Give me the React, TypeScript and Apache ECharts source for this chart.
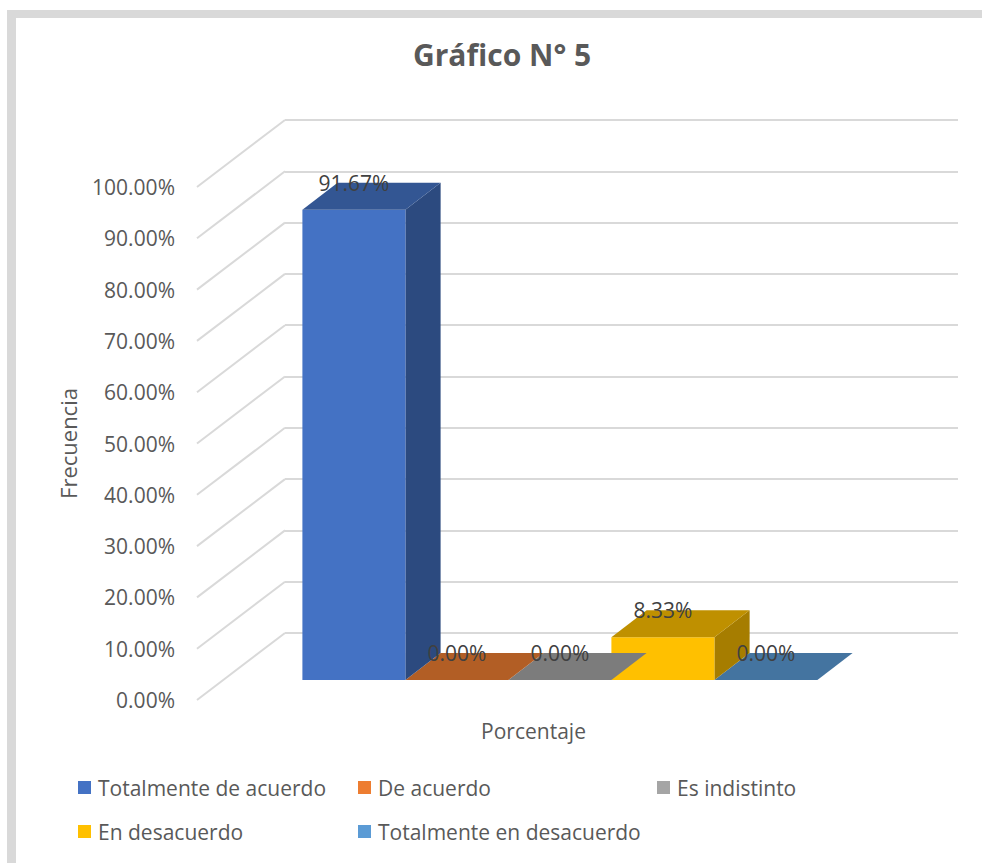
import React, { useEffect, useRef } from "react";
import * as echarts from "echarts";

// ---------- data ----------
const categories = ["Porcentaje"];
const seriesNames = [
  "Totalmente de acuerdo",
  "De acuerdo",
  "Es indistinto",
  "En desacuerdo",
  "Totalmente en desacuerdo",
];
const seriesValues = [0.9167, 0, 0, 0.0833, 0];
const seriesColors = ["#4472C4", "#ED7D31", "#A5A5A5", "#FFC000", "#5B9BD5"];
const tickValues = [0, 0.1, 0.2, 0.3, 0.4, 0.5, 0.6, 0.7, 0.8, 0.9, 1];
const yMin = 0;
const yMax = 1;
const yInterval = 0.1;
const titleText = "Gráfico N° 5";
const yAxisName = "Frecuencia";

// ---------- layout (pixels) ----------
const W = 982;
const H = 863;
const BACK = { left: 285, top: 120, width: 673, height: 513 };
const DEPTH: [number, number] = [-88, 67]; // back wall -> front edge
const BAR_FRONT = 0.7;
const BAR_BACK = 0.3;
const BAR_FRAC = 515 / 673; // share of the category band used by the 5 bars together
const GRID_COLOR = "#d9d9d9";
const TEXT_COLOR = "#595959";
const LABEL_COLOR = "#404040";
const FONT = "'Open Sans', 'Noto Sans', sans-serif";

function shade(hex: string, f: number) {
  const n = parseInt(hex.slice(1), 16);
  const r = Math.round(((n >> 16) & 255) * f);
  const g = Math.round(((n >> 8) & 255) * f);
  const b = Math.round((n & 255) * f);
  return `rgb(${r},${g},${b})`;
}

const shiftGrid = (k: number) => ({
  left: BACK.left + DEPTH[0] * k,
  top: BACK.top + DEPTH[1] * k,
  width: BACK.width,
  height: BACK.height,
});

// bar depth vector (front face -> back face)
const BDX = -DEPTH[0] * (BAR_FRONT - BAR_BACK);
const BDY = -DEPTH[1] * (BAR_FRONT - BAR_BACK);

function barGeom(api: any, i: number, v: number) {
  const base = api.coord([0, 0]);
  const top = api.coord([0, v]);
  const band = api.size([1, 0])[0];
  const n = seriesValues.length;
  const bw = (band * BAR_FRAC) / n;
  const x0 = base[0] - (n / 2) * bw + i * bw;
  return { x0, x1: x0 + bw, yb: base[1], yt: top[1] };
}

export default function App() {
  const ref = useRef<HTMLDivElement>(null);
  useEffect(() => {
    if (!ref.current) return;
    const chart = echarts.init(ref.current, undefined, { renderer: "svg" });

    const valueAxisBase = {
      type: "value",
      min: yMin,
      max: yMax,
      interval: yInterval,
      axisLine: { show: false },
      axisTick: { show: false },
    };

    const barSeries = seriesNames.map((name, i) => ({
      type: "custom",
      name,
      xAxisIndex: 2,
      yAxisIndex: 2,
      z: 10 - i,
      silent: true,
      itemStyle: { color: seriesColors[i] },
      data: [[0, seriesValues[i]]],
      renderItem: (params: any, api: any) => {
        const v = api.value(1);
        const { x0, x1, yb, yt } = barGeom(api, i, v);
        const col = seriesColors[i];
        const children: any[] = [];
        const h = yb - yt;
        if (h > 0.5) {
          children.push({
            type: "polygon",
            shape: { points: [[x1, yt], [x1 + BDX, yt + BDY], [x1 + BDX, yb + BDY], [x1, yb]] },
            style: { fill: shade(col, 0.65) },
          });
          children.push({
            type: "rect",
            shape: { x: x0, y: yt, width: x1 - x0, height: h },
            style: { fill: col },
          });
        }
        children.push({
          type: "polygon",
          shape: { points: [[x0, yt], [x0 + BDX, yt + BDY], [x1 + BDX, yt + BDY], [x1, yt]] },
          style: { fill: shade(col, 0.75) },
        });
        return { type: "group", children };
      },
    }));

    const labelSeries = {
      type: "custom",
      name: "labels",
      xAxisIndex: 2,
      yAxisIndex: 2,
      z: 30,
      silent: true,
      data: seriesValues.map((v, i) => [0, v, i]),
      renderItem: (params: any, api: any) => {
        const v = api.value(1);
        const i = api.value(2);
        const { x0, x1, yt } = barGeom(api, i, v);
        return {
          type: "text",
          style: {
            x: (x0 + x1) / 2,
            y: yt + BDY,
            text: (v * 100).toFixed(2) + "%",
            fill: LABEL_COLOR,
            font: `21px ${FONT}`,
            align: "center",
            verticalAlign: "middle",
          },
        };
      },
    };

    const diagonalSeries = {
      type: "custom",
      name: "diagonals",
      xAxisIndex: 1,
      yAxisIndex: 1,
      z: 1,
      silent: true,
      data: tickValues.map((v) => [0, v]),
      renderItem: (params: any, api: any) => {
        const c = api.coord([0, api.value(1)]);
        const band = api.size([1, 0])[0];
        const left = c[0] - band / 2;
        return {
          type: "line",
          shape: { x1: left, y1: c[1], x2: left - DEPTH[0], y2: c[1] - DEPTH[1] },
          style: { stroke: GRID_COLOR, lineWidth: 2 },
        };
      },
    };

    const legendPos = [
      [78, 777],
      [358, 777],
      [657, 777],
      [78, 821],
      [358, 821],
    ];

    const option: any = {
      animation: false,
      backgroundColor: "#ffffff",
      textStyle: { fontFamily: FONT },
      title: {
        text: titleText,
        left: 413,
        top: 39,
        padding: 0,
        textStyle: { fontFamily: FONT, fontSize: 30, fontWeight: "bold", color: TEXT_COLOR },
      },
      graphic: [
        { type: "rect", shape: { x: 7, y: 10, width: 9, height: H }, style: { fill: GRID_COLOR } },
        { type: "rect", shape: { x: 7, y: 10, width: W, height: 8, r: [3, 0, 0, 0] }, style: { fill: GRID_COLOR } },
      ],
      legend: seriesNames.map((name, i) => ({
        show: true,
        left: legendPos[i][0],
        top: legendPos[i][1],
        padding: 0,
        itemWidth: 13,
        itemHeight: 13,
        icon: "rect",
        selectedMode: false,
        textStyle: { fontFamily: FONT, fontSize: 21, color: TEXT_COLOR, padding: [0, 0, 0, 2] },
        data: [{ name, icon: "rect", itemStyle: { color: seriesColors[i] } }],
      })),
      grid: [
        { ...BACK, containLabel: false },
        { ...shiftGrid(1), containLabel: false },
        { ...shiftGrid(BAR_FRONT), containLabel: false },
      ],
      xAxis: [
        { type: "category", gridIndex: 0, data: categories, show: false },
        {
          type: "category",
          gridIndex: 1,
          data: categories,
          axisLine: { show: false },
          axisTick: { show: false },
          axisLabel: { margin: 20, fontSize: 21, color: TEXT_COLOR, fontFamily: FONT },
        },
        { type: "category", gridIndex: 2, data: categories, show: false },
      ],
      yAxis: [
        {
          ...valueAxisBase,
          gridIndex: 0,
          axisLabel: { show: false },
          splitLine: { show: true, lineStyle: { color: GRID_COLOR, width: 2 } },
        },
        {
          ...valueAxisBase,
          gridIndex: 1,
          splitLine: { show: false },
          axisLabel: {
            margin: 22,
            fontSize: 21,
            color: TEXT_COLOR,
            fontFamily: FONT,
            formatter: (v: number) => (v * 100).toFixed(2) + "%",
          },
          name: yAxisName,
          nameLocation: "middle",
          nameGap: 118,
          nameRotate: 90,
          nameTextStyle: { fontSize: 22, color: TEXT_COLOR, fontFamily: FONT },
        },
        { ...valueAxisBase, gridIndex: 2, show: false, splitLine: { show: false } },
      ],
      series: [diagonalSeries, ...barSeries, labelSeries],
    };

    chart.setOption(option);
    return () => chart.dispose();
  }, []);

  return (
    <div
      ref={ref}
      style={{ position: "absolute", left: 0, top: 0, width: W, height: H }}
    />
  );
}
